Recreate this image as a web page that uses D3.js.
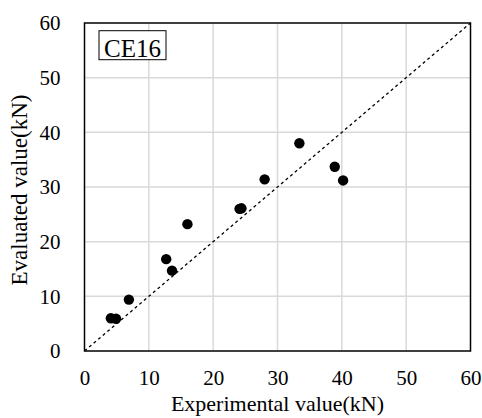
<!DOCTYPE html>
<html>
<head>
<meta charset="utf-8">
<script src="https://cdn.jsdelivr.net/npm/d3@7"></script>
<style>
  body { margin: 0; background: #fff; }
  text { font-family: "Liberation Serif", "Times New Roman", serif; fill: #000; }
</style>
</head>
<body>
<div class="chart"></div>
<script>
// data
var experimental = [4.1, 4.9, 6.9, 12.7, 13.6, 16.0, 24.1, 24.4, 28.0, 33.4, 38.9, 40.2];
var evaluated    = [6.0, 5.9, 9.4, 16.8, 14.7, 23.2, 26.0, 26.1, 31.4, 38.0, 33.7, 31.2];
var ticks = [0, 10, 20, 30, 40, 50, 60];
var label = "CE16";

var W = 482, H = 418;
var margin = {top: 23, right: 11.5, bottom: 67, left: 84.5},
    width = W - margin.left - margin.right,
    height = H - margin.top - margin.bottom;

var svg = d3.select(".chart").append("svg")
    .attr("width", W)
    .attr("height", H);

var g = svg.append("g")
    .attr("transform", "translate(" + margin.left + "," + margin.top + ")");

var x = d3.scaleLinear().domain([0, 60]).range([0, width]);
var y = d3.scaleLinear().domain([0, 60]).range([height, 0]);

// grid
g.selectAll(".gx").data(ticks.slice(1, -1)).enter().append("line")
    .attr("x1", function(d) { return x(d); })
    .attr("x2", function(d) { return x(d); })
    .attr("y1", 0).attr("y2", height)
    .style("stroke", "#d9d9d9").style("stroke-width", 1.5);
g.selectAll(".gy").data(ticks.slice(1, -1)).enter().append("line")
    .attr("y1", function(d) { return y(d); })
    .attr("y2", function(d) { return y(d); })
    .attr("x1", 0).attr("x2", width)
    .style("stroke", "#d9d9d9").style("stroke-width", 1.5);

// 1:1 line
g.append("line")
    .attr("x1", x(0)).attr("y1", y(0))
    .attr("x2", x(60)).attr("y2", y(60))
    .style("stroke", "#000").style("stroke-width", 1.3)
    .style("stroke-dasharray", "3,3");

// frame
g.append("rect")
    .attr("width", width).attr("height", height)
    .style("fill", "none").style("stroke", "#000").style("stroke-width", 1.5);

// axes (tick labels only)
var xAxis = g.append("g")
    .attr("transform", "translate(0," + height + ")")
    .call(d3.axisBottom(x).tickValues(ticks).tickSize(0).tickPadding(19));
var yAxis = g.append("g")
    .call(d3.axisLeft(y).tickValues(ticks).tickSize(0).tickPadding(24));
[xAxis, yAxis].forEach(function(a) {
  a.select(".domain").remove();
  a.attr("font-family", null).attr("font-size", null);
  a.selectAll("text")
    .style("font-family", "'Liberation Serif', serif")
    .style("font-size", "21px");
});

// points
g.selectAll(".pt").data(experimental).enter().append("circle")
    .attr("cx", function(d) { return x(d); })
    .attr("cy", function(d, i) { return y(evaluated[i]); })
    .attr("r", 5.2)
    .style("fill", "#000");

// label box
var lb = g.append("g").attr("transform", "translate(14.5,7.7)");
lb.append("rect").attr("width", 67).attr("height", 29)
    .style("fill", "#fff").style("stroke", "#000").style("stroke-width", 1);
lb.append("text").attr("x", 33.5).attr("y", 26.5)
    .attr("text-anchor", "middle").style("font-size", "25px").text(label);

// axis titles
svg.append("text")
    .attr("x", margin.left + width / 2).attr("y", 411)
    .attr("text-anchor", "middle").style("font-size", "22px")
    .text("Experimental value(kN)");
svg.append("text")
    .attr("transform", "translate(27,190) rotate(-90)")
    .attr("text-anchor", "middle").style("font-size", "23px")
    .text("Evaluated value(kN)");
</script>
</body>
</html>
